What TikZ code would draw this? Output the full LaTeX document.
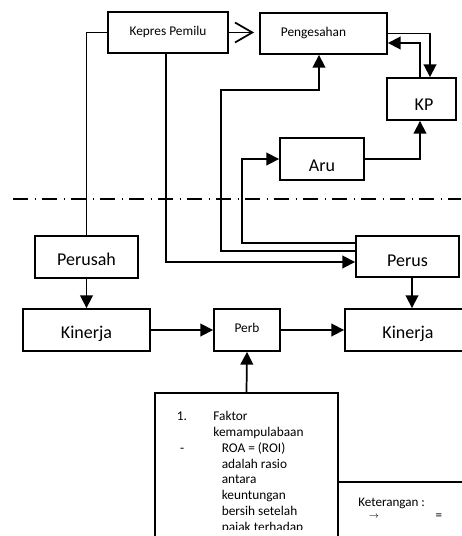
\documentclass[tikz,border=0pt]{standalone}
\usepackage{fontspec}
\setmainfont{Carlito}
\usetikzlibrary{arrows.meta,calc}
\tikzset{
  box/.style={draw, line width=1.4pt, inner sep=0pt, font=\fontsize{13.5}{16}\selectfont, text height=13pt, text depth=0pt},
  smallbox/.style={box, font=\fontsize{10}{12}\selectfont, text height=6.75pt, text depth=3pt},
  filltip/.style={line width=1.3pt, -{Triangle[length=9.5pt,width=9.5pt]}},
  barbtip/.style={line width=1.3pt, -{Straight Barb[length=13pt,width=15pt,line width=1.3pt]}, shorten >=3.75pt},
  plainline/.style={line width=1.3pt},
  splitline/.style={line width=1pt, dash pattern=on 11.25pt off 4.9pt on 1.1pt off 4.5pt}
}
\begin{document}
\begin{tikzpicture}[x=0.75pt, y=-0.75pt]
			%%%%% START %%%%%
			\useasboundingbox (0,0) rectangle (461,536);
			
			% upper part
			\node[smallbox, minimum width=90pt, minimum height=30.75pt] (kepres) at (168,32.5) {Kepres Pemilu};
			\node[smallbox, minimum width=95.25pt, minimum height=30.75pt] (pengesahan) at (323.5,33.5) {Pengesahan\hspace*{15pt}};
			\node[box, minimum width=51.75pt, minimum height=31.5pt, text height=17pt] (kp) at (421.5,99) {\hspace*{3.75pt}KP};
			\node[box, minimum width=63pt, minimum height=31.5pt, text height=19pt] (aru) at (322,159) {Aru};
			
			\draw[splitline] (13,199) -- (461,199);
			
			% lower part
			\node[box, minimum width=77.25pt, minimum height=31.5pt] (perusah) at (86.5,257) {Perusah};
			\node[box, minimum width=77.25pt, minimum height=30.75pt, text height=15.5pt] (perus) at (407.5,256.5) {Perus};
			\node[box, minimum width=95.25pt, minimum height=31.5pt, text height=12.5pt] (kinL) at (86.5,330) {Kinerja};
			\node[smallbox, minimum width=49.5pt, minimum height=31.5pt] (perb) at (247,330) {Perb};
			\node[box, minimum width=97.5pt, minimum height=31.5pt, text height=12.5pt] (kinR) at (410,330) {\hspace*{-3pt}Kinerja};
			
			\node[draw, line width=1.4pt, minimum width=137.25pt, minimum height=125.25pt] (faktor) at (246.5,476.5) {};
			\node[draw, line width=1.4pt, minimum width=123pt, minimum height=72pt] (keterangan) at (420,530) {};
			
			\begin{scope}
			\clip (0,0) rectangle (461,529);
			\node[anchor=north west, align=left, inner sep=0pt, font=\fontsize{10}{11.9}\selectfont] (faktortext) at (176.5,411) {%
				\makebox[27.5pt][l]{1.}Faktor\\
				\hspace*{27.5pt}kemampulabaan\\
				\makebox[27.5pt][l]{\hspace*{2.5pt}-}\hspace*{6.25pt}ROA = (ROI)\\
				\hspace*{33.75pt}adalah rasio\\
				\hspace*{33.75pt}antara\\
				\hspace*{33.75pt}keuntungan\\
				\hspace*{33.75pt}bersih setelah\\
				\hspace*{33.75pt}pajak terhadap};
			\end{scope}
			
			\node[anchor=base west, inner sep=0pt, font=\fontsize{9.8}{11}\selectfont] (kettext) at (358,506.5) {Keterangan :};
			\node[inner sep=0pt, font=\fontsize{7}{8}\selectfont] (ketarrow) at (374,517) {$\rightarrow$};
			\node[inner sep=0pt, font=\fontsize{9.8}{11}\selectfont] (keteq) at (439,517) {=};
			
			% connectors
			\draw[barbtip] (kepres.east) -- (kepres.east -| pengesahan.west);
			\draw[filltip] (pengesahan.east) -| ($(kp.north)+(8.5,0)$);
			\draw[filltip] ($(kp.north)+(-1.5,0)$) |- ($(pengesahan.east)+(0,9.5)$);
			\draw[filltip] (aru.east) -| ($(kp.south)+(-1.5,0)$);
			\draw[plainline] (kepres.west) -| (perusah.north);
			\draw[filltip] ($(kepres.south)+(-2,0)$) |- ($(perus.west)+(0,5.5)$);
			\draw[filltip] ($(perus.west)+(0,-5.5)$) -- ++(-134,0) -- ++(0,-161) -| ($(pengesahan.south)+(-4.5,0)$);
			\draw[filltip] ($(perus.west)+(0,-13.5)$) -- ++(-113,0) |- (aru.west);
			\draw[filltip] (perusah.south) -- (kinL.north);
			\draw[filltip] ([xshift=3.375pt]perus.south) -- ([xshift=3.375pt]perus.south |- kinR.north);
			\draw[filltip] (kinL.east) -- (perb.west);
			\draw[filltip] (perb.east) -- (perb.east -| kinR.west);
			\draw[filltip] (faktor.north) -- (perb.south);
			%%%%% END %%%%%
\end{tikzpicture}
\end{document}
